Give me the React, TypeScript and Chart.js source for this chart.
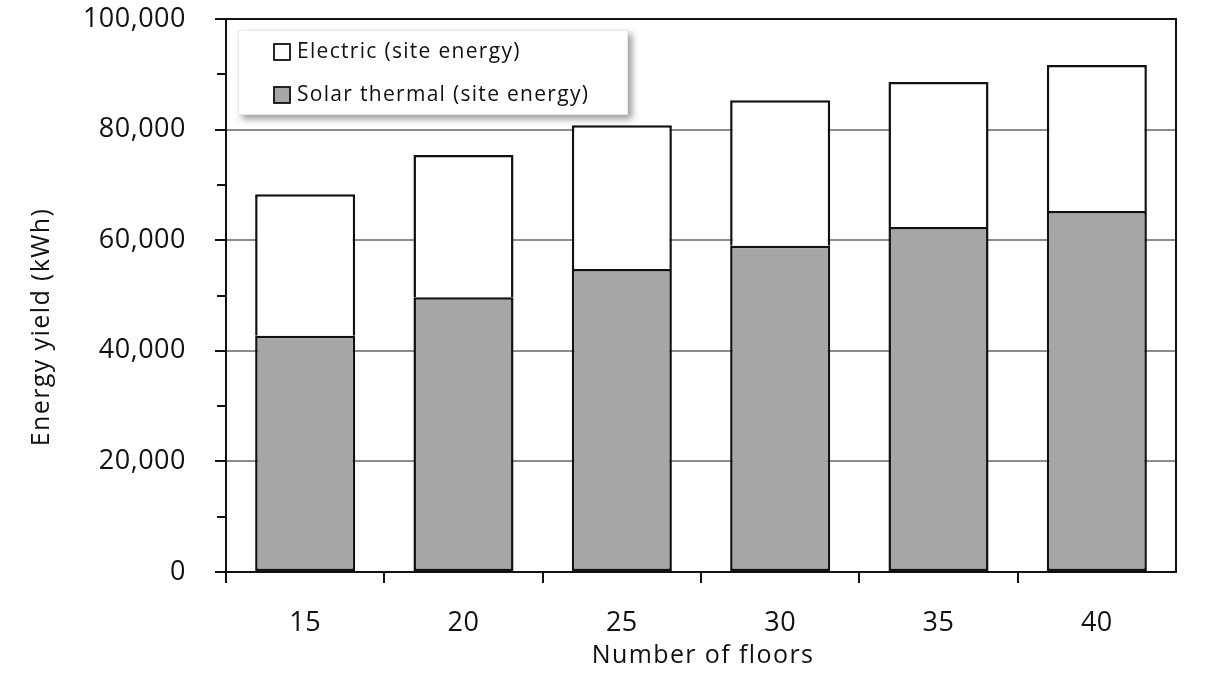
import React, { useEffect, useRef } from "react";
import { Chart, registerables } from "chart.js";

Chart.register(...registerables);

const categories = ["15", "20", "25", "30", "35", "40"];
const solarThermal = [42700, 49700, 54800, 59000, 62400, 65300];
const electric = [25600, 25700, 26000, 26300, 26200, 26400];
const seriesNames = ["Electric (site energy)", "Solar thermal (site energy)"];
const yMin = 0;
const yMax = 100000;
const yStep = 20000;
const yMinorTicks = [10000, 30000, 50000, 70000, 90000];
const xTitle = "Number of floors";
const yTitle = "Energy yield (kWh)";

const FONT = "'Open Sans', 'Noto Sans', sans-serif";
const TEXT = "#111111";
const SOLAR = "#a6a6a6";
const EDGE = "#111111";

const decorPlugin = {
  id: "decor",
  beforeDraw(chart: any) {
    const ctx = chart.ctx;
    ctx.save();
    ctx.fillStyle = "#ffffff";
    ctx.fillRect(0, 0, chart.width, chart.height);
    ctx.restore();
    ctx.letterSpacing = "0.5px";
  },
  afterDraw(chart: any) {
    const ctx = chart.ctx;
    const a = chart.chartArea;
    const y = chart.scales.y;
    const x = chart.scales.x;
    ctx.save();
    ctx.letterSpacing = "0px";
    ctx.strokeStyle = EDGE;
    ctx.lineWidth = 2;
    ctx.strokeRect(a.left, a.top, a.right - a.left, a.bottom - a.top);
    ctx.beginPath();
    y.ticks.forEach((t: any) => {
      const py = Math.round(y.getPixelForValue(t.value));
      ctx.moveTo(a.left - 11, py);
      ctx.lineTo(a.left, py);
    });
    yMinorTicks.forEach((v) => {
      const py = Math.round(y.getPixelForValue(v));
      ctx.moveTo(a.left - 9, py);
      ctx.lineTo(a.left, py);
    });
    const n = categories.length;
    for (let i = 0; i < n; i++) {
      const px =
        i === 0
          ? a.left
          : Math.round((x.getPixelForValue(i - 1) + x.getPixelForValue(i)) / 2);
      ctx.moveTo(px, a.bottom);
      ctx.lineTo(px, a.bottom + 11);
    }
    ctx.stroke();

    ctx.fillStyle = TEXT;
    ctx.font = `25px ${FONT}`;
    ctx.letterSpacing = "1.4px";
    ctx.textAlign = "center";
    ctx.textBaseline = "middle";
    ctx.fillText(xTitle, (a.left + a.right) / 2 + 2, 656);
    ctx.save();
    ctx.translate(42, 327);
    ctx.rotate(-Math.PI / 2);
    ctx.fillText(yTitle, 0, 0);
    ctx.restore();

    const lx = a.left + 12;
    const ly = a.top + 11;
    const lw = 390;
    const lh = 85;
    ctx.save();
    ctx.shadowColor = "rgba(0,0,0,0.4)";
    ctx.shadowBlur = 7;
    ctx.shadowOffsetX = 4;
    ctx.shadowOffsetY = 4;
    ctx.fillStyle = "#ffffff";
    ctx.fillRect(lx, ly, lw, lh);
    ctx.restore();
    ctx.strokeStyle = "#e8e8e8";
    ctx.lineWidth = 1;
    ctx.strokeRect(lx + 0.5, ly + 0.5, lw - 1, lh - 1);

    const fills = ["#ffffff", SOLAR];
    const rowsY = [ly + 22, ly + 65];
    ctx.font = `21px ${FONT}`;
    ctx.letterSpacing = "1.3px";
    ctx.textAlign = "left";
    ctx.textBaseline = "middle";
    seriesNames.forEach((name, i) => {
      const cy = rowsY[i];
      ctx.fillStyle = fills[i];
      ctx.fillRect(lx + 36, cy - 8, 16, 16);
      ctx.strokeStyle = EDGE;
      ctx.lineWidth = 1.8;
      ctx.strokeRect(lx + 36, cy - 8, 16, 16);
      ctx.fillStyle = TEXT;
      ctx.fillText(name, lx + 59, cy);
    });
    ctx.restore();
  },
};

export default function App() {
  const ref = useRef<HTMLCanvasElement | null>(null);
  useEffect(() => {
    if (!ref.current) return;
    const chart = new Chart(ref.current, {
      type: "bar",
      data: {
        labels: categories,
        datasets: [
          {
            label: seriesNames[1],
            data: solarThermal,
            backgroundColor: SOLAR,
            borderColor: EDGE,
            borderWidth: 2.5,
            borderSkipped: false,
            categoryPercentage: 1,
            barPercentage: 0.632,
          },
          {
            label: seriesNames[0],
            data: electric,
            backgroundColor: "#ffffff",
            borderColor: EDGE,
            borderWidth: { top: 2.5, left: 2.5, right: 2.5, bottom: 0 },
            borderSkipped: false,
            categoryPercentage: 1,
            barPercentage: 0.632,
          },
        ],
      },
      options: {
        responsive: false,
        animation: false,
        devicePixelRatio: 1,
        layout: { padding: { top: 19, right: 31, left: 0, bottom: 0 } },
        plugins: { legend: { display: false }, tooltip: { enabled: false } },
        scales: {
          x: {
            stacked: true,
            grid: { display: false },
            border: { display: false },
            ticks: {
              color: TEXT,
              font: { family: FONT, size: 27 },
              padding: 27,
              maxRotation: 0,
            },
            afterFit(scale: any) {
              scale.height = 675 - 572;
              scale.paddingLeft = 0;
              scale.paddingRight = 0;
            },
          },
          y: {
            stacked: true,
            min: yMin,
            max: yMax,
            border: { display: false },
            grid: {
              drawTicks: false,
              lineWidth: 2,
              color: (c: any) =>
                c.tick && (c.tick.value === yMin || c.tick.value === yMax)
                  ? "rgba(0,0,0,0)"
                  : "#8c8c8c",
            },
            ticks: {
              stepSize: yStep,
              color: TEXT,
              font: { family: FONT, size: 27 },
              padding: 40,
              callback: (v: any) => Number(v).toLocaleString("en-US"),
            },
            afterFit(scale: any) {
              scale.width = 226;
              scale.paddingTop = 0;
              scale.paddingBottom = 0;
            },
          },
        },
      },
      plugins: [decorPlugin],
    });
    return () => chart.destroy();
  }, []);
  return (
    <div style={{ position: "absolute", left: 0, top: 0, width: 1207, height: 675 }}>
      <canvas ref={ref} width={1207} height={675} />
    </div>
  );
}
